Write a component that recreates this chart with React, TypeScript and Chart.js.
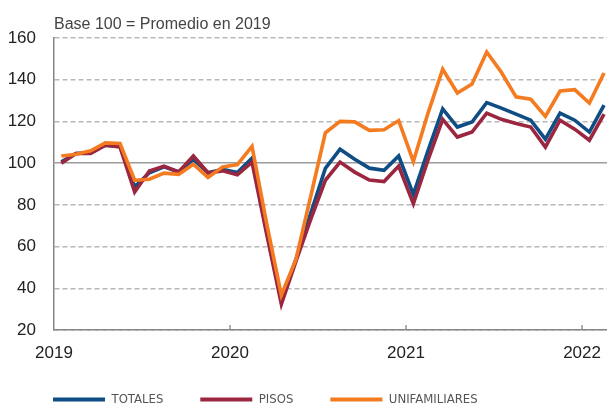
import React, { useEffect, useRef } from 'react';
import { Chart, registerables } from 'chart.js';

Chart.register(...registerables);

// Monthly data, Jan 2019 .. Feb 2022
const monthLabels = [
  'ene-19', 'feb-19', 'mar-19', 'abr-19', 'may-19', 'jun-19', 'jul-19', 'ago-19', 'sep-19', 'oct-19', 'nov-19', 'dic-19',
  'ene-20', 'feb-20', 'mar-20', 'abr-20', 'may-20', 'jun-20', 'jul-20', 'ago-20', 'sep-20', 'oct-20', 'nov-20', 'dic-20',
  'ene-21', 'feb-21', 'mar-21', 'abr-21', 'may-21', 'jun-21', 'jul-21', 'ago-21', 'sep-21', 'oct-21', 'nov-21', 'dic-21',
  'ene-22', 'feb-22',
];

const totales = [
  100.6, 104.6, 105.0, 108.6, 108.0, 88.7, 95.4, 98.2, 95.8, 101.8, 95.4, 97.0,
  95.5, 102.4, 67.0, 34.3, 54.0, 76.0, 97.5, 106.7, 101.9, 97.6, 96.6, 103.4,
  85.0, 106.0, 126.0, 117.3, 119.7, 129.0, 126.4, 123.5, 120.6, 111.5, 124.0, 120.6,
  114.9, 127.8,
];

const pisos = [
  100.0, 104.6, 104.6, 108.6, 107.8, 86.2, 96.2, 98.5, 95.8, 103.4, 95.4, 96.3,
  94.4, 100.5, 66.0, 32.4, 53.0, 73.0, 91.8, 100.5, 95.7, 91.9, 91.2, 98.6,
  80.5, 101.5, 121.0, 112.5, 114.9, 124.0, 121.0, 119.0, 117.3, 107.7, 120.6, 116.3,
  111.0, 123.5,
];

const unifamiliares = [
  103.4, 104.3, 105.9, 109.7, 109.4, 91.8, 92.3, 95.2, 94.6, 99.5, 93.1, 98.2,
  99.3, 108.0, 71.0, 36.7, 54.0, 84.0, 114.5, 120.0, 119.8, 115.7, 116.0, 120.4,
  100.8, 124.0, 145.0, 133.6, 137.9, 153.3, 143.6, 131.8, 130.7, 122.4, 134.6, 135.2,
  128.8, 143.2,
];

const seriesNames = ['TOTALES', 'PISOS', 'UNIFAMILIARES'];
const seriesColors = ['#0f4d85', '#9b2640', '#f47b20'];

const yearTickValues = [0, 12, 24, 36];
const yearTickLabels = ['2019', '2020', '2021', '2022'];

const yTicks = [20, 40, 60, 80, 100, 120, 140, 160];

const subtitle = 'Base 100 = Promedio en 2019';

const FONT = "'Liberation Sans', Arial, Helvetica, sans-serif";
const NARROW = "'Liberation Sans Narrow', 'Arial Narrow', 'DejaVu Sans Condensed', 'Roboto Condensed', sans-serif";

const toPoints = (arr: number[]) => arr.map((v, i) => ({ x: i + 0.5, y: v }));

const decorPlugin = {
  id: 'decor',
  afterLayout(chart: any) {
    // place the legend under the plot's left edge, just below the year labels
    if (chart.legend) {
      chart.legend.left = 16;
      chart.legend.top = 356;
    }
  },
  afterDraw(chart: any) {
    const { ctx, chartArea, scales } = chart;
    ctx.save();
    // subtitle
    ctx.font = `16px ${FONT}`;
    ctx.fillStyle = '#444';
    ctx.textAlign = 'left';
    ctx.textBaseline = 'alphabetic';
    ctx.fillText(subtitle, chartArea.left, 29);
    // inner year ticks on the x axis
    ctx.strokeStyle = '#858585';
    ctx.lineWidth = 1.3;
    yearTickValues.forEach((v) => {
      if (v === 0) return;
      const x = scales.x.getPixelForValue(v);
      ctx.beginPath();
      ctx.moveTo(x, chartArea.bottom - 5);
      ctx.lineTo(x, chartArea.bottom);
      ctx.stroke();
    });
    ctx.restore();
  },
};

export default function App() {
  const canvasRef = useRef<HTMLCanvasElement | null>(null);

  useEffect(() => {
    if (!canvasRef.current) return;
    const series = [totales, pisos, unifamiliares];
    const chart = new Chart(canvasRef.current, {
      type: 'line',
      data: {
        labels: monthLabels,
        datasets: series.map((s, i) => ({
          label: seriesNames[i],
          data: toPoints(s),
          borderColor: seriesColors[i],
          backgroundColor: seriesColors[i],
          borderWidth: 3.6,
          pointRadius: 0,
          pointHoverRadius: 0,
          tension: 0,
          borderJoinStyle: 'miter' as const,
          fill: false,
          order: 2 - i,
        })),
      },
      options: {
        responsive: false,
        devicePixelRatio: 1,
        animation: false,
        events: [],
        layout: { padding: { top: 38, left: 0, right: 1, bottom: 0 } },
        scales: {
          x: {
            type: 'linear',
            min: 0,
            max: 37.7,
            afterBuildTicks: (scale: any) => {
              scale.ticks = yearTickValues.map((v) => ({ value: v }));
            },
            afterFit: (scale: any) => {
              scale.height = 34;
            },
            ticks: {
              autoSkip: false,
              maxRotation: 0,
              padding: 13,
              color: '#222',
              font: { size: 17, family: FONT },
              callback: (v: any) => {
                const idx = yearTickValues.indexOf(Number(v));
                return idx >= 0 ? yearTickLabels[idx] : '';
              },
            },
            grid: { display: false, drawTicks: false },
            border: { display: true, color: '#858585', width: 1.5 },
          },
          y: {
            min: 20,
            max: 160,
            afterBuildTicks: (scale: any) => {
              scale.ticks = yTicks.map((v) => ({ value: v }));
            },
            afterFit: (scale: any) => {
              scale.width = 54;
            },
            ticks: {
              padding: 18,
              color: '#222',
              font: { size: 17, family: FONT },
            },
            grid: {
              drawTicks: false,
              lineWidth: 1.4,
              color: (c: any) => (c.tick && c.tick.value === 100 ? '#9c9c9c' : '#b8b8b8'),
            },
            border: {
              display: true,
              color: '#858585',
              width: 1.5,
              dash: (c: any) => (c.tick && c.tick.value === 100 ? [] : [5, 3]),
            } as any,
          },
        },
        plugins: {
          tooltip: { enabled: false },
          title: { display: false },
          legend: {
            display: true,
            position: 'bottom',
            align: 'start',
            labels: {
              boxWidth: 52,
              boxHeight: 4,
              padding: 37,
              color: '#555',
              font: { size: 13, family: NARROW },
              generateLabels: (ch: any) =>
                ch.data.datasets.map((d: any, i: number) => ({
                  text: d.label,
                  fillStyle: d.borderColor,
                  strokeStyle: d.borderColor,
                  lineWidth: 0,
                  hidden: false,
                  datasetIndex: i,
                  fontColor: '#555',
                })),
            },
          },
        },
      },
      plugins: [decorPlugin],
    } as any);
    return () => chart.destroy();
  }, []);

  return (
    <div style={{ position: 'fixed', left: 0, top: 0, width: 614, height: 424, overflow: 'hidden', background: '#fff' }}>
      <canvas ref={canvasRef} width={614} height={424} style={{ display: 'block', width: 614, height: 424 }} />
    </div>
  );
}
